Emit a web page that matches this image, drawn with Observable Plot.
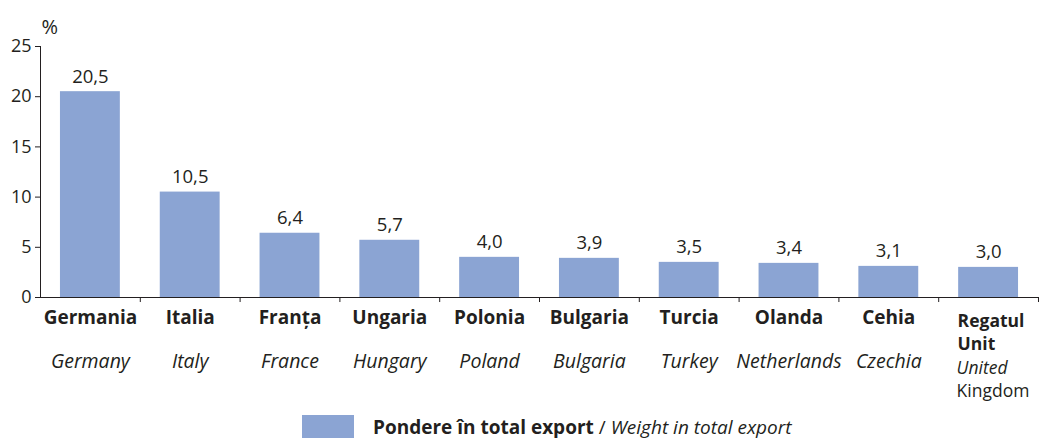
<!DOCTYPE html>
<html>
<head>
<meta charset="utf-8">
<script src="https://cdn.jsdelivr.net/npm/d3@7"></script>
<script src="https://cdn.jsdelivr.net/npm/@observablehq/plot@0.6"></script>
<style>
  body { margin: 0; background: #fff; font-family: "Open Sans", sans-serif; color: #231f20; }
  #legend { display: flex; align-items: center; margin-left: 302px; margin-top: 10px; height: 23px; font-size: 19px; }
  #legend .sw { width: 52px; height: 23px; background: #8ba4d3; }
  #legend .lt { margin-left: 19px; white-space: nowrap; }
</style>
</head>
<body>
<div id="chart"></div>
<script>
const categoriesRo = ["Germania", "Italia", "Franța", "Ungaria", "Polonia", "Bulgaria", "Turcia", "Olanda", "Cehia", "Regatul\nUnit"];
const categoriesEn = ["Germany", "Italy", "France", "Hungary", "Poland", "Bulgaria", "Turkey", "Netherlands", "Czechia", "United Kingdom"];
const values = [20.5, 10.5, 6.4, 5.7, 4.0, 3.9, 3.5, 3.4, 3.1, 3.0];
const yTicks = [0, 5, 10, 15, 20, 25];
const unitLabel = "%";
const legendBold = "Pondere în total export";
const legendItalic = "Weight in total export";

const rows = categoriesRo.map((ro, i) => ({key: ro, ro, en: categoriesEn[i], value: values[i]}));
const fmt = v => d3.format(".1f")(v).replace(".", ",");
const lastKey = categoriesRo[categoriesRo.length - 1];
const mainRows = rows.filter(d => d.key !== lastKey);
const lastRows = rows.filter(d => d.key === lastKey);
const enFirst = d => d.en.split(" ")[0];
const enRest = d => d.en.split(" ").slice(1).join(" ");

const W = 1041, H = 405;
const mL = 40, mR = 3;
const step = (W - mL - mR) / categoriesRo.length;
const ink = "#231f20";

const chart = Plot.plot({
  width: W,
  height: H,
  marginLeft: mL,
  marginRight: mR,
  marginTop: 46,
  marginBottom: H - 297,
  style: {fontFamily: "Open Sans, sans-serif", fontSize: "18px", color: ink, background: "#fff"},
  x: {domain: categoriesRo, paddingInner: 0.4, paddingOuter: 0.2, round: false, axis: null},
  y: {domain: [0, 25], ticks: yTicks, tickSize: 5, tickPadding: 4, line: true, label: null, tickFormat: d => d},
  marks: [
    Plot.barY(rows, {x: "key", y: "value", fill: "#8ba4d3"}),
    Plot.ruleY([0], {stroke: ink, strokeWidth: 1.2}),
    Plot.ruleX(categoriesRo, {x: d => d, dx: step / 2, y1: 0, y2: -0.5, stroke: ink}),
    Plot.text(rows, {x: "key", y: "value", text: d => fmt(d.value), lineAnchor: "bottom", dy: -9, fontSize: 18.5, fill: ink}),
    Plot.text(mainRows, {x: "key", y: () => 0, text: "ro", lineAnchor: "top", dy: 13, fontSize: 19, fontWeight: "bold", fill: ink}),
    Plot.text(lastRows, {x: "key", y: () => 0, text: "ro", lineAnchor: "top", dy: 13, dx: -31, textAnchor: "start", lineHeight: 1.32, fontSize: 17.5, fontWeight: "bold", fill: ink}),
    Plot.text(mainRows, {x: "key", y: () => 0, text: "en", lineAnchor: "top", dy: 57, fontSize: 19.5, fontStyle: "italic", fill: ink}),
    Plot.text(lastRows, {x: "key", y: () => 0, text: enFirst, lineAnchor: "top", dy: 64, dx: -32, textAnchor: "start", fontSize: 17.5, fontStyle: "italic", fill: ink}),
    Plot.text(lastRows, {x: "key", y: () => 0, text: enRest, lineAnchor: "top", dy: 87, dx: -32, textAnchor: "start", fontSize: 17.5, fill: ink}),
    Plot.text([unitLabel], {frameAnchor: "top-left", text: d => d, dx: 1, dy: -27, fontSize: 20, fill: ink})
  ]
});
document.getElementById("chart").appendChild(chart);

const legend = document.createElement("div");
legend.id = "legend";
legend.innerHTML = `<div class="sw"></div><div class="lt"><b>${legendBold}</b> / <i>${legendItalic}</i></div>`;
document.body.appendChild(legend);
</script>
</body>
</html>
